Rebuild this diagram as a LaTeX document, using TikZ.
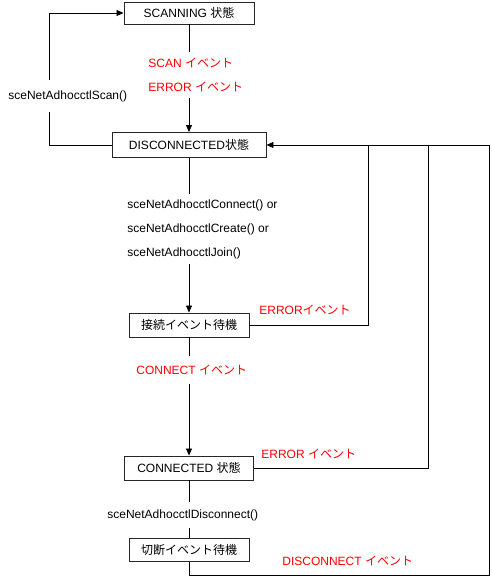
\documentclass[tikz,border=0pt]{standalone}
\usepackage{fontspec}
\setmainfont{Liberation Sans}
\newfontfamily\jpfont{Noto Sans CJK JP}
\newcommand{\jp}[1]{{\jpfont #1}}
\usetikzlibrary{arrows.meta}

\begin{document}
\begin{tikzpicture}[x=1pt,y=-1pt,line width=0.8pt,
	font=\fontsize{12}{14}\selectfont,
	state/.style={draw=black!85,line width=0.9pt,inner sep=0pt},
	lbl/.style={fill=white,inner xsep=1pt,align=left,anchor=west},
	ev/.style={text=red,anchor=west,inner sep=0pt},
	arr/.style={-{Triangle[length=7pt,width=6pt]}}]
	\useasboundingbox (0,0) rectangle (491,578);
	\node[state,minimum width=130pt,minimum height=22pt] (scan) at (189,13) {SCANNING \jp{状態}};
	\node[state,minimum width=154pt,minimum height=25pt] (disc) at (189,145) {DISCONNECTED\jp{状態}};
	\node[state,minimum width=120pt,minimum height=24pt] (wait) at (189,325) {\jp{接続イベント待機}};
	\node[state,minimum width=129pt,minimum height=24pt] (conn) at (189,468) {CONNECTED \jp{状態}};
	\node[state,minimum width=120pt,minimum height=23pt] (cut) at (189,550) {\jp{切断イベント待機}};
	\coordinate (tl) at (49,13);
	\coordinate (r1) at (368,145);
	\coordinate (r2) at (428,145);
	\coordinate (r3) at (489,145);
	\coordinate (br) at (489,575);
	\draw[arr] (scan) -- (disc);
	\draw[arr] (disc.west) -| (tl) -- (scan.west);
	\draw[arr] (disc) -- (wait);
	\draw (wait.east) -| (r1);
	\draw[arr] (wait) -- (conn);
	\draw (conn.east) -| (r2);
	\draw (conn) -- (cut);
	\draw (cut.south) |- (br) -- (r3);
	\draw[arr] (r3) -- (disc.east);
	\node[lbl,text=red,inner ysep=6pt,font=\fontsize{12}{24}\selectfont] (scanev) at (147,75) {SCAN \jp{イベント}\\ERROR \jp{イベント}};
	\node[lbl,inner ysep=10pt] (scanfn) at (7,96) {sceNetAdhocctlScan()};
	\node[lbl,inner ysep=5pt,font=\fontsize{12}{24}\selectfont] (joinfn) at (126,229) {sceNetAdhocctlConnect() or\\sceNetAdhocctlCreate() or\\sceNetAdhocctlJoin()};
	\node[lbl,text=red,inner ysep=9pt] (connev) at (135,370) {CONNECT \jp{イベント}};
	\node[lbl,inner ysep=7pt] (discfn) at (106,515) {sceNetAdhocctlDisconnect()};
	\node[ev] (err1) at (259,310) {ERROR\jp{イベント}};
	\node[ev] (err2) at (261,454) {ERROR \jp{イベント}};
	\node[ev] (discev) at (282,561) {DISCONNECT \jp{イベント}};
\end{tikzpicture}
\end{document}
